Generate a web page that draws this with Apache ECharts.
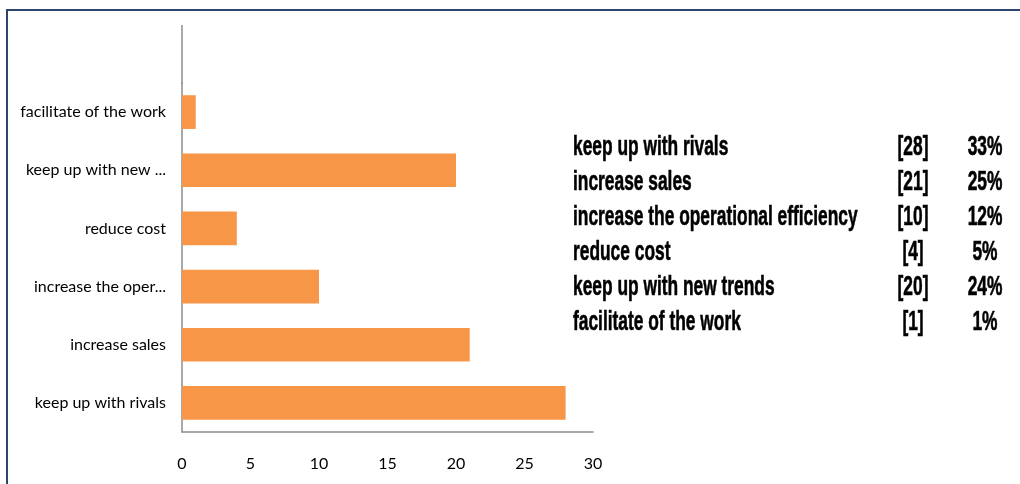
<!DOCTYPE html>
<html>
<head>
<meta charset="utf-8">
<script src="https://cdn.jsdelivr.net/npm/echarts@6/dist/echarts.min.js"></script>
<style>
  html, body { margin: 0; padding: 0; background: #fff; }
  #chart { width: 1020px; height: 484px; }
</style>
</head>
<body>
<div id="chart"></div>
<script>
// Survey reasons, listed bottom-to-top on the bar chart and top-to-bottom in the table
const categories = [
  'keep up with rivals',
  'increase sales',
  'increase the operational efficiency',
  'reduce cost',
  'keep up with new trends',
  'facilitate of the work'
];
// Shortened names as shown on the category axis
const axisLabels = [
  'keep up with rivals',
  'increase sales',
  'increase the oper...',
  'reduce cost',
  'keep up with new ...',
  'facilitate of the work'
];
const counts = [28, 21, 10, 4, 20, 1];
const xTicks = [0, 5, 10, 15, 20, 25, 30];

const total = counts.reduce((a, b) => a + b, 0);
const percents = counts.map(v => Math.round(v / total * 100) + '%');

const chart = echarts.init(document.getElementById('chart'), null, { renderer: 'canvas' });

const labelFont = 'Lato, "Open Sans", sans-serif';
const tableFont = '"Liberation Sans", Arial, sans-serif';

// Summary table on the right: name, [count], percent (condensed bold type)
const tableGraphics = [];
const rowTop = 147, rowStep = 35, squeeze = 0.62;
function tableCell(text, x, y, align) {
  return {
    type: 'text', x: x, y: y, scaleX: squeeze,
    style: { text: text, font: 'bold 28px ' + tableFont, fill: '#000',
             stroke: '#000', lineWidth: 0.6,
             textAlign: align, textVerticalAlign: 'middle' }
  };
}
categories.forEach((name, i) => {
  const y = rowTop + i * rowStep;
  tableGraphics.push(tableCell(name, 573, y, 'left'));
  tableGraphics.push(tableCell('[' + counts[i] + ']', 913, y, 'center'));
  tableGraphics.push(tableCell(percents[i], 985, y, 'center'));
});

chart.setOption({
  animation: false,
  backgroundColor: '#fff',
  grid: { left: 182, right: 427, top: 83, bottom: 52, containLabel: false },
  xAxis: {
    type: 'value',
    min: xTicks[0],
    max: xTicks[xTicks.length - 1],
    interval: xTicks[1] - xTicks[0],
    axisLine: { show: true, lineStyle: { color: '#8c8c8c', width: 1.5 } },
    axisTick: { show: false },
    splitLine: { show: false },
    axisLabel: { color: '#000', fontFamily: labelFont, fontSize: 16, margin: 24 }
  },
  yAxis: {
    type: 'category',
    data: axisLabels,
    axisLine: { show: true, lineStyle: { color: '#8c8c8c', width: 1.5 } },
    axisTick: { show: false },
    axisLabel: { color: '#000', fontFamily: labelFont, fontSize: 16, margin: 16 }
  },
  series: [{
    type: 'bar',
    data: counts,
    barCategoryGap: '42%',
    itemStyle: { color: '#F79646' }
  }],
  graphic: [
    // chart frame (top and left edges visible)
    { type: 'rect', shape: { x: 7, y: 10, width: 1200, height: 700 },
      style: { fill: 'none', stroke: '#2A4670', lineWidth: 2 }, z: 10 },
    // plot area extends above the first category
    { type: 'line', shape: { x1: 182, y1: 25, x2: 182, y2: 84 },
      style: { stroke: '#8c8c8c', lineWidth: 1.5 } }
  ].concat(tableGraphics)
});
</script>
</body>
</html>
